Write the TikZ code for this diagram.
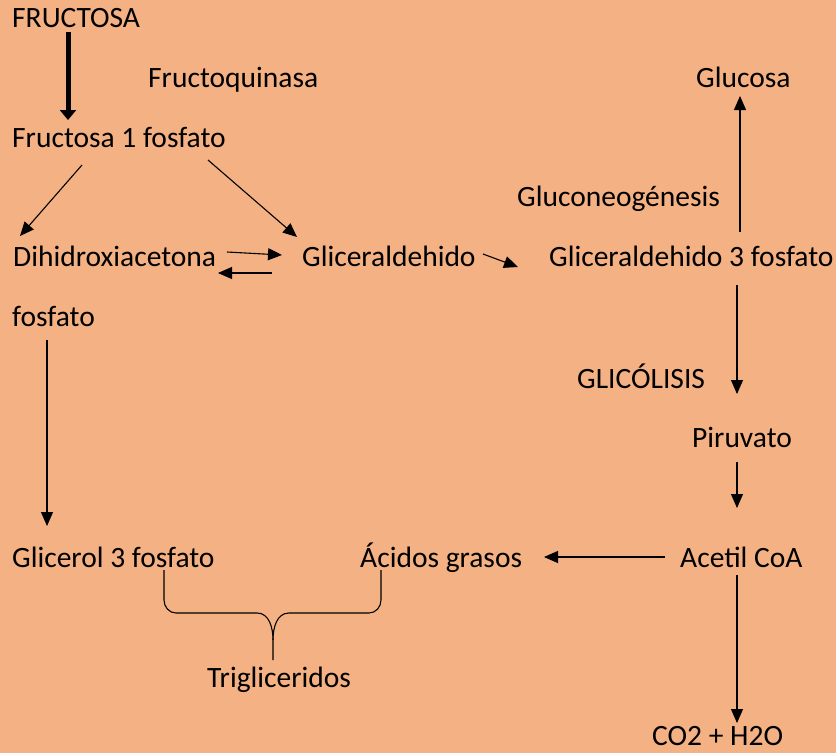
\documentclass[tikz,border=0pt]{standalone}
\usepackage{fontspec}
\setmainfont{Carlito}
\usetikzlibrary{arrows.meta}
\definecolor{bg}{RGB}{244,177,131}
\begin{document}
\begin{tikzpicture}[x=1pt,y=-1pt,
  lbl/.style={anchor=base west,inner sep=0pt,font=\fontsize{29.5}{34}\selectfont},
  arr/.style={line width=1.1pt,-{Triangle[length=14pt,width=12pt]}},
  thick arr/.style={line width=5pt,-{Triangle[length=10pt,width=16pt]}}]
\fill[bg] (0,0) rectangle (836,753);
\useasboundingbox (0,0) rectangle (836,753);
% labels
\node[lbl] (fru) at (12,27) {FRUCTOSA};
\node[lbl] (fq) at (148,87) {Fructoquinasa};
\node[lbl] (f1p) at (12,147) {Fructosa 1 fosfato};
\node[lbl] (glu) at (696,87) {Glucosa};
\node[lbl] (gng) at (517,206) {Gluconeogénesis};
\node[lbl] (dha) at (13,266) {Dihidroxiacetona};
\node[lbl] (gli) at (302,266) {Gliceraldehido};
\node[lbl] (g3p) at (549,266) {Gliceraldehido 3 fosfato};
\node[lbl] (fos) at (12,326) {fosfato};
\node[lbl] (glc) at (577,388) {GLICÓLISIS};
\node[lbl] (pir) at (692,447) {Piruvato};
\node[lbl] (gl3) at (12,567) {Glicerol 3 fosfato};
\node[lbl] (acg) at (360,567) {Ácidos grasos};
\node[lbl] (aco) at (680,567) {Acetil CoA};
\node[lbl] (tri) at (207,687) {Trigliceridos};
\node[lbl] (co2) at (652,745) {CO2 + H2O};
% connector end points
\coordinate (a1s) at (68,32);   \coordinate (a1e) at (68,120);
\coordinate (a2s) at (82,165);  \coordinate (a2e) at (20,236);
\coordinate (a3s) at (208,160); \coordinate (a3e) at (297,237);
\coordinate (a4s) at (227,252); \coordinate (a4e) at (282,255);
\coordinate (a5s) at (272,273); \coordinate (a5e) at (218,273);
\coordinate (a6s) at (483,254); \coordinate (a6e) at (518,267);
\coordinate (a7s) at (740,232); \coordinate (a7e) at (740,96);
\coordinate (a8s) at (737,285); \coordinate (a8e) at (737,394);
\coordinate (a9s) at (737,462); \coordinate (a9e) at (737,508);
\coordinate (a10s) at (665,557); \coordinate (a10e) at (544,557);
\coordinate (a11s) at (737,575); \coordinate (a11e) at (737,723);
\coordinate (a12s) at (47,340); \coordinate (a12e) at (47,526);
\draw[thick arr] (a1s) -- (a1e);
\draw[arr] (a2s) -- (a2e);
\draw[arr] (a3s) -- (a3e);
\draw[arr] (a4s) -- (a4e);
\draw[arr] (a5s) -- (a5e);
\draw[arr] (a6s) -- (a6e);
\draw[arr] (a7s) -- (a7e);
\draw[arr] (a8s) -- (a8e);
\draw[arr] (a9s) -- (a9e);
\draw[arr] (a10s) -- (a10e);
\draw[arr] (a11s) -- (a11e);
\draw[arr] (a12s) -- (a12e);
% brace
\coordinate (bl) at (164,570);
\coordinate (br) at (381,570);
\coordinate (bt) at (273,660);
\draw[line width=1.1pt] (bl) -- (164,600) to[out=-90,in=180] (176,613) -- (257,613)
  to[out=0,in=90] (273,640) -- (bt);
\draw[line width=1.1pt] (br) -- (381,600) to[out=-90,in=0] (369,613) -- (289,613)
  to[out=180,in=90] (273,640);
\end{tikzpicture}
\end{document}
